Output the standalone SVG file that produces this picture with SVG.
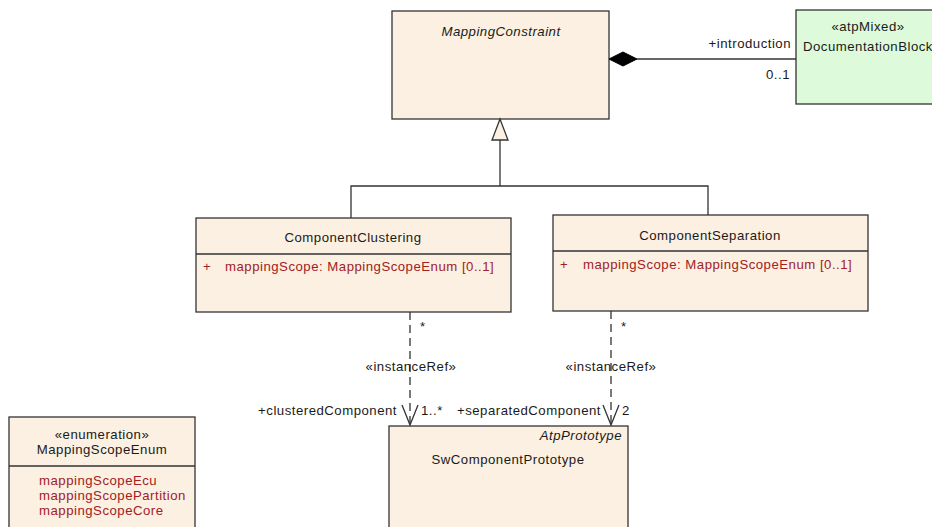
<svg xmlns="http://www.w3.org/2000/svg" width="932" height="527" viewBox="0 0 932 527">
<style>
  .box { fill: #FBF0E1; stroke: #333333; stroke-width: 1.3; }
  .green { fill: #DDFBDB; stroke: #333333; stroke-width: 1.3; }
  .sep { stroke: #333333; stroke-width: 1.3; fill: none; }
  text { font-family: "Liberation Sans", Arial, sans-serif; font-size: 13.2px; letter-spacing: 0.5px; fill: #1a1a1a; }
  .it { font-style: italic; }
  .mid { text-anchor: middle; }
  .end { text-anchor: end; }
  .attr { fill: #A3201E; }
  .line { stroke: #333333; stroke-width: 1.3; fill: none; }
  .dash { stroke: #333333; stroke-width: 1.3; fill: none; stroke-dasharray: 8,5; }
</style>
<rect width="932" height="527" fill="#ffffff"/>

<g id="MappingConstraint">
  <rect class="box" x="392" y="11" width="217" height="108"/>
  <text class="it mid" x="501" y="36">MappingConstraint</text>
</g>

<g id="DocumentationBlock">
  <rect class="green" x="796" y="10" width="146" height="94"/>
  <text class="mid" x="868" y="31">«atpMixed»</text>
  <text x="803" y="51">DocumentationBlock</text>
</g>

<g id="ComponentClustering">
  <rect class="box" x="196" y="218" width="315" height="94"/>
  <line class="sep" x1="196" y1="254" x2="511" y2="254"/>
  <text class="mid" x="353" y="242">ComponentClustering</text>
  <text class="attr" x="203" y="271">+</text>
  <text class="attr" x="225" y="271">mappingScope: MappingScopeEnum [0..1]</text>
</g>

<g id="ComponentSeparation">
  <rect class="box" x="553" y="215" width="315" height="96"/>
  <line class="sep" x1="553" y1="251" x2="868" y2="251"/>
  <text class="mid" x="710" y="240">ComponentSeparation</text>
  <text class="attr" x="560" y="269">+</text>
  <text class="attr" x="583" y="269">mappingScope: MappingScopeEnum [0..1]</text>
</g>

<g id="SwComponentPrototype">
  <rect class="box" x="389" y="426" width="239" height="110"/>
  <text class="it end" x="622" y="440">AtpPrototype</text>
  <text class="mid" x="508" y="464">SwComponentPrototype</text>
</g>

<g id="MappingScopeEnum">
  <rect class="box" x="9" y="417" width="186" height="120"/>
  <line class="sep" x1="9" y1="466" x2="195" y2="466"/>
  <text class="mid" x="102" y="439">«enumeration»</text>
  <text class="mid" x="102" y="454">MappingScopeEnum</text>
  <text class="attr" x="39" y="485">mappingScopeEcu</text>
  <text class="attr" x="39" y="500">mappingScopePartition</text>
  <text class="attr" x="39" y="515">mappingScopeCore</text>
</g>

<g id="connectors">
  <!-- composition -->
  <line class="line" x1="637" y1="59" x2="796" y2="59"/>
  <polygon points="609,59 623,52 637,59 623,66" fill="#000000" stroke="#000000" stroke-width="1"/>
  <text class="end" x="791" y="48">+introduction</text>
  <text class="end" x="790" y="79">0..1</text>

  <!-- generalization -->
  <polyline class="line" points="351,218 351,186 708,186 708,215"/>
  <line class="line" x1="500" y1="186" x2="500" y2="140"/>
  <polygon points="500,119 492,140 508,140" fill="#FBF0E1" stroke="#333333" stroke-width="1.3"/>

  <!-- instanceRef clustered -->
  <line class="dash" x1="410" y1="312" x2="410" y2="425"/>
  <polyline class="line" points="402,405 410,425 418,405"/>
  <text x="420" y="331">*</text>
  <text class="mid" x="411" y="371">«instanceRef»</text>
  <text class="end" x="397" y="415">+clusteredComponent</text>
  <text x="421" y="415">1..*</text>

  <!-- instanceRef separated -->
  <line class="dash" x1="611" y1="311" x2="611" y2="425"/>
  <polyline class="line" points="603,405 611,425 619,405"/>
  <text x="621" y="331">*</text>
  <text class="mid" x="611" y="371">«instanceRef»</text>
  <text class="end" x="601" y="415">+separatedComponent</text>
  <text x="622" y="415">2</text>
</g>
</svg>
